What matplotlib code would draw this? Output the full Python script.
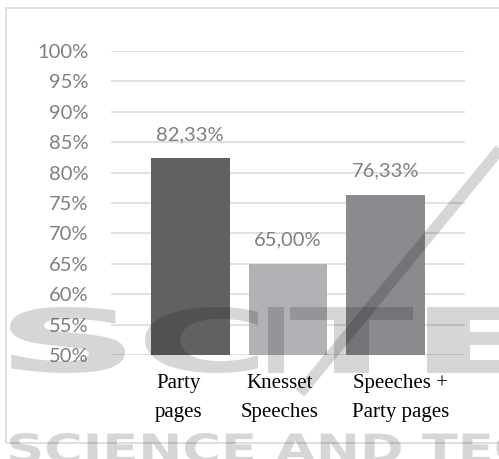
import matplotlib
matplotlib.use("Agg")
import matplotlib.pyplot as plt
import matplotlib.transforms as mtransforms
from matplotlib.patches import Rectangle, PathPatch
from matplotlib.textpath import TextPath
from matplotlib.font_manager import FontProperties
from matplotlib.ticker import FixedLocator

# accuracy of each source
categories = ["Party\npages", "Knesset\nSpeeches", "Speeches +\nParty pages"]
accuracy = [82.33, 65.00, 76.33]
bar_colors = ["#616163", "#b1b2b6", "#8a8b8f"]
y_ticks = [50, 55, 60, 65, 70, 75, 80, 85, 90, 95, 100]

W, H = 499, 459
fig = plt.figure(figsize=(W / 100, H / 100), dpi=100)
ax = fig.add_axes([111 / W, 1 - 355 / H, 354 / W, 304 / H])

x = list(range(len(categories)))
ax.bar(x, accuracy, width=0.806, color=bar_colors, zorder=2)

ax.set_ylim(50, 100)
ax.set_xlim(-0.81, 2.81)
ax.yaxis.set_major_locator(FixedLocator(y_ticks))
ax.set_yticklabels([f"{t}%" for t in y_ticks], fontfamily="Lato",
                   fontsize=14.5, color="#7f7f7f")
ax.tick_params(axis="y", length=0, pad=16)
ax.set_xticks([])
ax.grid(axis="y", color="#d9d9d9", linewidth=1.1, zorder=0)
for s in ax.spines.values():
    s.set_visible(False)

# value labels above bars
for xi, v in zip(x, accuracy):
    ax.annotate(f"{v:.2f}%".replace(".", ","), (xi, v), xytext=(0, 13),
                textcoords="offset points", ha="center", va="baseline",
                fontfamily="Lato", fontsize=14.5, color="#7f7f7f", zorder=3)

# category labels, nudged like the wrapped text cells
nudge = [-12, -8, 15]
for xi, lab, dx in zip(x, categories, nudge):
    ax.annotate(lab, (xi, 0), xycoords=("data", "axes fraction"),
                xytext=(dx * 0.72, -14), textcoords="offset points",
                ha="center", va="top", multialignment="center",
                linespacing=1.65, fontfamily="Liberation Serif",
                fontsize=15, color="black")

px = mtransforms.IdentityTransform()

# chart frame
fig.add_artist(Rectangle((6, H - 443), 620, 435, transform=px, fill=False,
                         edgecolor="#d9d9d9", linewidth=1.2))


def stamp(text, x0, y0, x1, y1, ref=None):
    # text outline stretched into a pixel box (y measured from the top)
    prop = FontProperties(family="DejaVu Sans", weight="bold")
    tp = TextPath((0, 0), text, prop=prop, size=100)
    ext = TextPath((0, 0), ref or text, prop=prop, size=100).get_extents()
    sx = (x1 - x0) / ext.width
    sy = (y1 - y0) / ext.height
    tr = (mtransforms.Affine2D().translate(-ext.x0, -ext.y0)
          .scale(sx, sy).translate(x0, H - y1))
    fig.add_artist(PathPatch(tr.transform_path(tp), transform=px,
                             facecolor="black", edgecolor="none",
                             alpha=0.16, zorder=10))


# background stamp
for ch, box in [("S", (10, 307, 125, 373)), ("C", (145, 307, 258, 373)),
                ("I", (268, 307, 284, 373)), ("T", (290, 307, 413, 373)),
                ("E", (427, 307, 545, 373))]:
    stamp(ch, *box)
stamp("SCIENCE AND TECHNOLOGY", 10, 433, 253, 463, ref="SCIENCE")
fig.add_artist(plt.Line2D([300, 505], [H - 393, H - 143], transform=px,
                          color="black", alpha=0.16, linewidth=8,
                          solid_capstyle="butt", zorder=10))

fig.savefig("out.png", dpi=100)
